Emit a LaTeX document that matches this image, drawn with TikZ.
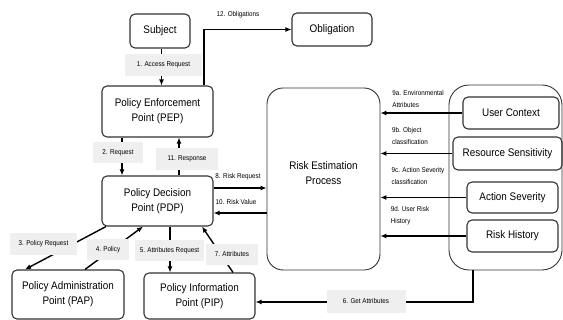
\documentclass[tikz,border=0pt]{standalone}
\usepackage{fontspec}
\setmainfont[FakeStretch=0.9]{Liberation Sans}
\usetikzlibrary{arrows.meta}
\definecolor{lblgray}{HTML}{EFEFEF}
\definecolor{boxline}{HTML}{333333}
\begin{document}
\begin{tikzpicture}[x=1pt,y=-1pt,
    box/.style={draw=boxline,line width=1.1pt,rounded corners=5pt,align=center,
      font=\fontsize{11}{15}\selectfont,inner sep=0pt},
    arr/.style={line width=1.4pt,-{Latex[length=6pt,width=5pt]}},
    lbl/.style={font=\fontsize{7}{12}\selectfont,inner sep=0pt,align=left},
    tag/.style={lbl,fill=lblgray,inner xsep=9pt,inner ysep=7pt}]
  \useasboundingbox (0,0) rectangle (563,320);
  \node[box,minimum width=60pt,minimum height=34pt] (subj) at (160,31) {Subject};
  \node[box,minimum width=80pt,minimum height=33pt] (oblig) at (332,29.5) {Obligation};
  \node[box,minimum width=111pt,minimum height=51pt] (pep) at (157.5,111.5) {Policy Enforcement\\Point (PEP)};
  \node[box,minimum width=111pt,minimum height=50pt] (pdp) at (157.5,201) {Policy Decision\\Point (PDP)};
  \node[box,minimum width=112pt,minimum height=49pt] (pap) at (68,294.5) {Policy Administration\\Point (PAP)};
  \node[box,minimum width=111pt,minimum height=46pt] (pip) at (199.5,296) {Policy Information\\Point (PIP)};
  \node[draw=boxline,line width=0.9pt,rounded corners=16pt,minimum width=113pt,minimum height=182pt] (rep) at (323.5,179) {};
  \node[box,draw=none] (reptxt) at (323.5,173) {Risk Estimation\\Process};
  \node[draw=boxline,line width=0.9pt,rounded corners=20pt,minimum width=113pt,minimum height=185pt] (grp) at (505.5,177.5) {};
  \node[box,minimum width=96pt,minimum height=32pt] (uctx) at (511,113) {User Context};
  \node[box,minimum width=109pt,minimum height=33pt] (rsens) at (507.5,153.5) {Resource Sensitivity};
  \node[box,minimum width=91pt,minimum height=31pt] (asev) at (512.5,197.5) {Action Severity};
  \node[box,minimum width=91pt,minimum height=32pt] (rhist) at (512.5,236) {Risk History};

  \draw[arr] ([xshift=1.5pt]subj.south) -- ([xshift=1.5pt]subj.south |- pep.north);
  \draw[arr] ([xshift=46.5pt]pep.north) |- (oblig.west);
  \draw[arr] ([xshift=-35.5pt]pep.south) -- ([xshift=-35.5pt]pdp.north);
  \draw[arr] ([xshift=21.5pt]pdp.north) -- ([xshift=21.5pt]pep.south);
  \draw[arr] ([yshift=13pt]pdp.east) -- ([yshift=13pt]pdp.east -| rep.west);
  \draw[arr] ([yshift=-12pt]pdp.east -| rep.west) -- ([yshift=-12pt]pdp.east);
  \draw[arr] ([xshift=-51.5pt]pdp.south) -- ([xshift=-43pt]pap.north);
  \draw[arr] ([xshift=17pt]pap.north) -- ([xshift=-14.5pt]pdp.south);
  \draw[arr] ([xshift=12.5pt]pdp.south) -- ([xshift=12.5pt]pdp.south |- pip.north);
  \draw[arr] ([xshift=33.5pt]pip.north) -- ([xshift=44.5pt]pdp.south);
  \draw[arr] ([xshift=-32.5pt]grp.south) |- ([yshift=-6pt]pip.east);
  \draw[arr] (uctx.west) -- (uctx.west -| rep.east);
  \draw[arr] (rsens.west) -- (rsens.west -| rep.east);
  \draw[arr] (asev.west) -- (asev.west -| rep.east);
  \draw[arr] (rhist.west) -- (rhist.west -| rep.east);

  \node[tag,minimum width=77pt,minimum height=22pt] (l1) at (163.5,65) {1. Access Request};
  \node[lbl] (l12) at (238,15) {12. Obligations};
  \node[tag,minimum width=50pt,minimum height=21pt] (l2) at (118,152.5) {2. Request};
  \node[tag,minimum width=62pt,minimum height=22pt] (l11) at (187,159) {11. Response};
  \node[lbl] (l8) at (238,177) {8. Risk Request};
  \node[lbl] (l10) at (236,202) {10. Risk Value};
  \node[tag,minimum width=59pt,minimum height=22pt] (l3) at (43.5,244) {3. Policy Request};
  \node[tag,minimum width=42pt,minimum height=21pt] (l4) at (108,249.5) {4. Policy};
  \node[tag,minimum width=69pt,minimum height=16pt,inner xsep=2pt] (l5) at (169.5,250.5) {5. Attributes Request};
  \node[tag,minimum width=52pt,minimum height=21pt] (l7) at (232,254.5) {7. Attributes};
  \node[tag,minimum width=79pt,minimum height=23pt] (l6) at (366,301.5) {6. Get Attributes};
  \node[lbl] (l9a) at (418,99) {9a. Environmental\\Attributes};
  \node[lbl] (l9b) at (410,136) {9b. Object\\classification};
  \node[lbl] (l9c) at (418,176) {9c. Action Severity\\classification};
  \node[lbl] (l9d) at (410,216) {9d. User Risk\\History};
\end{tikzpicture}
\end{document}
